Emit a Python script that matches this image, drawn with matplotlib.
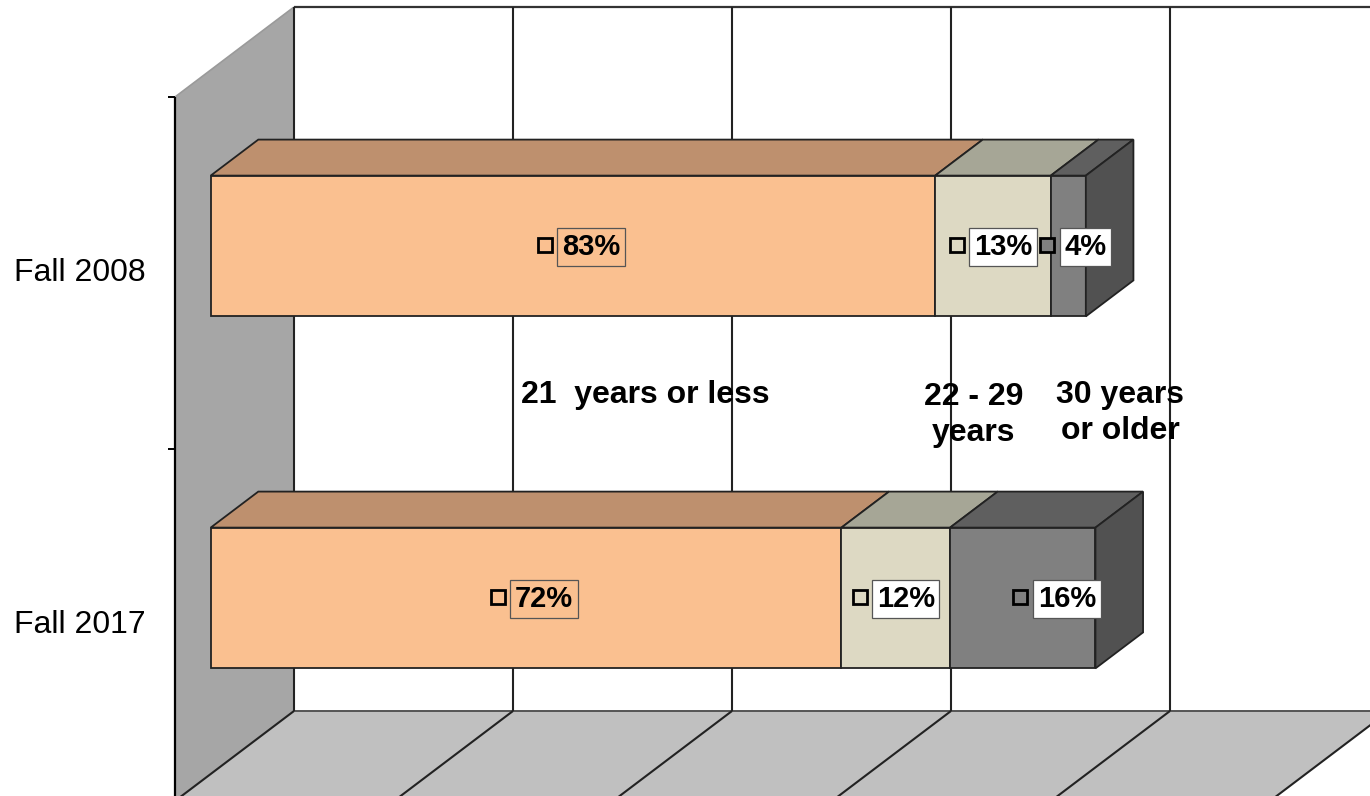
import matplotlib
matplotlib.use('Agg')
import matplotlib.pyplot as plt
from matplotlib.patches import Polygon

# ---------------- data ----------------
categories = ['Fall 2008', 'Fall 2017']
series_names = ['21  years or less', '22 - 29\nyears', '30 years\nor older']
under21 = [82.7, 72.0]
age22_29 = [13.2, 12.4]
over30 = [4.0, 16.6]
value_labels = [['83%', '13%', '4%'], ['72%', '12%', '16%']]
x_ticks = [0, 25, 50, 75, 100, 125]

# ---------------- style ----------------
front_colors = ['#FAC090', '#DDD9C3', '#808080']
top_colors = ['#BE906E', '#A6A696', '#5F5F5F']
side_colors = ['#9C7050', '#8A8A7A', '#515151']
label_box_fill = ['none', 'white', 'white']
edge = '#222222'
FONT = 'Liberation Sans'

W_PX, H_PX = 1370, 796
fig = plt.figure(figsize=(W_PX / 100, H_PX / 100), dpi=100)
ax = fig.add_axes([0, 0, 1, 1])
ax.axis('off')

# scale: value units -> pixels, category bands
PXV = 8.76          # px per percent
X0 = 175            # front plane, value 0
Y0 = 97             # top of category axis
BAND = 352          # px per category
ax.set_xlim(-X0 / PXV, (W_PX - X0) / PXV)
ax.set_ylim((H_PX - Y0) / BAND, -Y0 / BAND)
DX = 119 / PXV      # depth vector in data units
DY = -90 / BAND
VMAX = x_ticks[-1]
NCAT = len(categories)


def P(v, u, d):
    return (v + d * DX, u + d * DY)


def poly(pts, fc, ec='none', lw=0, z=1):
    ax.add_patch(Polygon(pts, closed=True, facecolor=fc, edgecolor=ec,
                         linewidth=lw, joinstyle='miter', zorder=z))


def line(a, b, color=edge, lw=1.4, z=2):
    ax.plot([a[0], b[0]], [a[1], b[1]], color=color, lw=lw, zorder=z,
            solid_capstyle='butt')


# walls and floor
poly([P(0, 0, 0), P(0, 0, 1), P(0, NCAT, 1), P(0, NCAT, 0)], '#A6A6A6')
poly([P(0, 0, 1), P(VMAX, 0, 1), P(VMAX, NCAT, 1), P(0, NCAT, 1)], 'white')
poly([P(0, NCAT, 0), P(0, NCAT, 1), P(VMAX, NCAT, 1), P(VMAX, NCAT, 0)], '#C0C0C0')
line(P(0, 0, 0), P(0, 0, 1), color='#9A9A9A', lw=1.2)
line(P(0, 0, 1), P(VMAX, 0, 1), color='#333333', lw=1.6)
line(P(0, NCAT, 1), P(VMAX, NCAT, 1), color='#555555', lw=1.4)
for t in x_ticks:
    line(P(t, 0, 1), P(t, NCAT, 1), lw=1.5)
    line(P(t, NCAT, 1), P(t, NCAT, 0), lw=1.5)
line(P(0, 0, 0), P(0, NCAT + 0.1, 0), color='black', lw=1.6)
for k in range(NCAT + 1):
    line((-7 / PXV, k), (0, k), color='black', lw=1.4)

# category labels
for i, c in enumerate(categories):
    ax.text(-29 / PXV, i + 0.5, c, ha='right', va='center', fontsize=23,
            family=FONT, color='black', zorder=5)

# bars
H = 0.4
D0, D1 = 0.3, 0.7
nudge_px = [[18, 10, 17], [18, 10, 44]]
series_vals = [under21, age22_29, over30]
label_texts = []
for i in range(NCAT):
    uc = i + 0.5
    top, bot = uc - H / 2, uc + H / 2
    cum = 0.0
    vals = [s[i] for s in series_vals]
    for j, v in enumerate(vals):
        l, r = cum, cum + v
        poly([P(l, top, D0), P(r, top, D0), P(r, top, D1), P(l, top, D1)],
             top_colors[j], ec=edge, lw=1.3, z=3)
        poly([P(l, top, D0), P(r, top, D0), P(r, bot, D0), P(l, bot, D0)],
             front_colors[j], ec=edge, lw=1.3, z=3)
        if j == len(vals) - 1:
            poly([P(r, top, D0), P(r, top, D1), P(r, bot, D1), P(r, bot, D0)],
                 side_colors[j], ec=edge, lw=1.3, z=3)
        cx, cy = P((l + r) / 2, uc, D0)
        t = ax.text(cx + nudge_px[i][j] / PXV, cy + 1 / BAND, value_labels[i][j],
                    ha='center', va='center', fontsize=21, fontweight='bold',
                    family=FONT, color='black', zorder=6,
                    bbox=dict(boxstyle='square,pad=0.16',
                              facecolor=label_box_fill[j],
                              edgecolor='#555555', linewidth=0.9))
        label_texts.append((t, j))
        cum = r

# legend keys next to each label
fig.canvas.draw()
renderer = fig.canvas.get_renderer()
inv = ax.transData.inverted()
for t, j in label_texts:
    bb = t.get_bbox_patch().get_window_extent(renderer)
    mx, my = inv.transform((bb.x0 - 12.5, (bb.y0 + bb.y1) / 2 + 2))
    ax.plot([mx], [my], marker='s', markersize=9.5, markerfacecolor=front_colors[j],
            markeredgecolor='black', markeredgewidth=2.0, zorder=7, linestyle='none')

# series names (legend placed inside plot)
legend_pos_px = [(645, 395), (974, 415), (1120, 413)]
for name, (px, py) in zip(series_names, legend_pos_px):
    fig.text(px / W_PX, 1 - py / H_PX, name, ha='center', va='center',
             fontsize=23, fontweight='bold', family=FONT, color='black',
             linespacing=1.25, zorder=8)

fig.savefig('out.png', dpi=100)
